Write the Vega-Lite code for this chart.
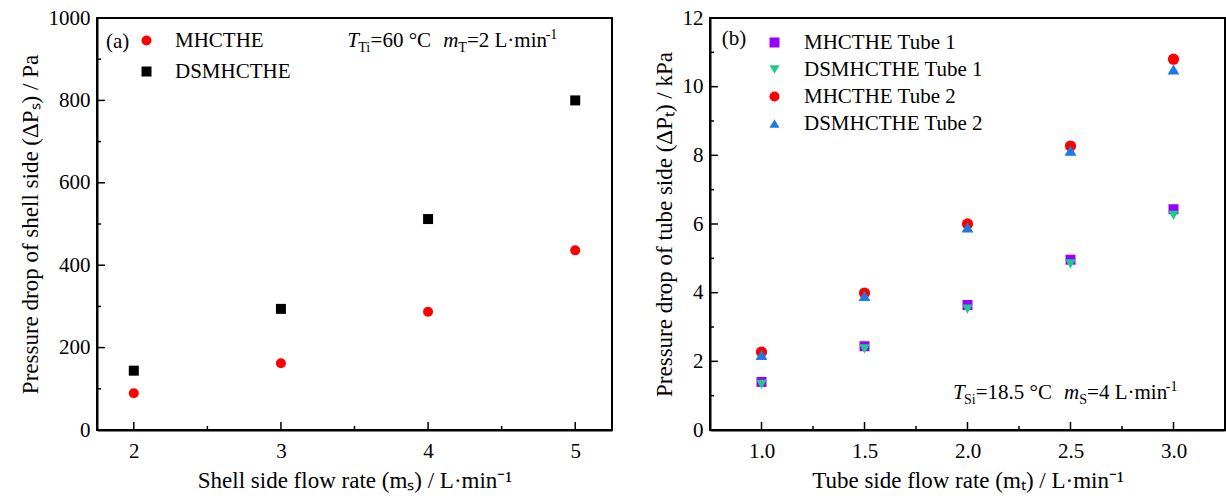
{
  "$schema": "https://vega.github.io/schema/vega-lite/v6.json",
  "padding": {"left": 18, "top": 6, "right": 0, "bottom": 0},
  "background": "white",
  "config": {
    "font": "Liberation Serif",
    "view": {"stroke": "black", "strokeWidth": 2},
    "axis": {"grid": false, "domainColor": "black", "domainWidth": 2,
             "labelColor": "black", "titleColor": "black", "labelFont": "Liberation Serif", "titleFont": "Liberation Serif",
             "labelFontSize": 21, "titleFontSize": 23, "titleFontWeight": "normal", "labelFlush": false, "labelOverlap": false},
    "legend": {"orient": "none", "title": null, "labelFont": "Liberation Serif", "labelFontSize": 21, "labelColor": "black",
               "symbolSize": 100, "padding": 0, "symbolStrokeWidth": 0, "symbolOpacity": 1, "labelLimit": 400},
    "text": {"font": "Liberation Serif", "color": "black"},
    "concat": {"spacing": 39}
  },
  "resolve": {"scale": {"color": "independent", "shape": "independent", "x": "independent", "y": "independent"},
              "legend": {"color": "independent", "shape": "independent"}},
  "hconcat": [
    {
      "width": 515, "height": 412,
      "resolve": {"axis": {"x": "independent", "y": "independent"}},
      "layer": [
        {"data": {"values": [{"mS": 2}, {"mS": 3}, {"mS": 4}, {"mS": 5}]},
         "mark": {"type": "rule", "color": "black", "strokeWidth": 1.5, "y2Offset": -8},
         "encoding": {"x": {"field": "mS", "type": "quantitative", "axis": null},
                      "y": {"datum": 0, "type": "quantitative", "axis": null},
                      "y2": {"datum": 0}}},
        {"data": {"values": [{"mS": 2.5}, {"mS": 3.5}, {"mS": 4.5}]},
         "mark": {"type": "rule", "color": "black", "strokeWidth": 1.5, "y2Offset": -4},
         "encoding": {"x": {"field": "mS", "type": "quantitative", "axis": null},
                      "y": {"datum": 0, "type": "quantitative", "axis": null},
                      "y2": {"datum": 0}}},
        {"data": {"values": [{"dP": 200}, {"dP": 400}, {"dP": 600}, {"dP": 800}]},
         "mark": {"type": "rule", "color": "black", "strokeWidth": 1.5, "x2Offset": 8},
         "encoding": {"y": {"field": "dP", "type": "quantitative", "axis": null},
                      "x": {"datum": 1.75, "type": "quantitative", "axis": null},
                      "x2": {"datum": 1.75}}},
        {"data": {"values": [{"dP": 100}, {"dP": 300}, {"dP": 500}, {"dP": 700}, {"dP": 900}]},
         "mark": {"type": "rule", "color": "black", "strokeWidth": 1.5, "x2Offset": 4},
         "encoding": {"y": {"field": "dP", "type": "quantitative", "axis": null},
                      "x": {"datum": 1.75, "type": "quantitative", "axis": null},
                      "x2": {"datum": 1.75}}},
        {
          "data": {"values": [
            {"mS": 2, "dP": 89, "series": "MHCTHE"},
            {"mS": 3, "dP": 162, "series": "MHCTHE"},
            {"mS": 4, "dP": 287, "series": "MHCTHE"},
            {"mS": 5, "dP": 436, "series": "MHCTHE"},
            {"mS": 2, "dP": 144, "series": "DSMHCTHE"},
            {"mS": 3, "dP": 294, "series": "DSMHCTHE"},
            {"mS": 4, "dP": 512, "series": "DSMHCTHE"},
            {"mS": 5, "dP": 800, "series": "DSMHCTHE"}
          ]},
          "mark": {"type": "point", "filled": true, "size": 100, "opacity": 1},
          "encoding": {
            "x": {"field": "mS", "type": "quantitative",
                  "scale": {"domain": [1.75, 5.25], "nice": false, "zero": false},
                  "axis": {"orient": "bottom", "title": "Shell side flow rate (mₛ) / L·min⁻¹", "values": [2, 3, 4, 5],
                           "format": "d", "ticks": false, "labelPadding": 10, "titlePadding": 8}},
            "y": {"field": "dP", "type": "quantitative",
                  "scale": {"domain": [0, 1000], "nice": false},
                  "axis": {"orient": "left", "title": "Pressure drop of shell side (ΔPₛ) / Pa", "values": [0, 200, 400, 600, 800, 1000],
                           "format": "d", "ticks": false, "labelPadding": 7, "titlePadding": 6}},
            "color": {"field": "series", "type": "nominal",
                      "scale": {"domain": ["MHCTHE", "DSMHCTHE"], "range": ["#FF0000", "#000000"]},
                      "legend": {"legendX": 39, "legendY": 12, "labelOffset": 18, "rowPadding": 9}},
            "shape": {"field": "series", "type": "nominal",
                      "scale": {"domain": ["MHCTHE", "DSMHCTHE"], "range": ["circle", "square"]},
                      "legend": {"legendX": 39, "legendY": 12, "labelOffset": 18, "rowPadding": 9}}
          }
        },
        {"data": {"values": [{"mS": 1.811, "dP": 927, "t": "(a)"}]},
         "mark": {"type": "text", "align": "left", "baseline": "alphabetic", "fontSize": 21},
         "encoding": {"x": {"field": "mS", "type": "quantitative", "axis": null}, "y": {"field": "dP", "type": "quantitative", "axis": null}, "text": {"field": "t"}}},
        {"data": {"values": [{"mS": 3.45, "dP": 930, "t": "T"}]},
         "mark": {"type": "text", "align": "left", "baseline": "alphabetic", "fontSize": 21, "fontStyle": "italic", "dx": 0},
         "encoding": {"x": {"field": "mS", "type": "quantitative", "axis": null}, "y": {"field": "dP", "type": "quantitative", "axis": null}, "text": {"field": "t"}}},
        {"data": {"values": [{"mS": 3.45, "dP": 930, "t": "Ti"}]},
         "mark": {"type": "text", "align": "left", "baseline": "alphabetic", "fontSize": 14, "dx": 11, "dy": 5},
         "encoding": {"x": {"field": "mS", "type": "quantitative", "axis": null}, "y": {"field": "dP", "type": "quantitative", "axis": null}, "text": {"field": "t"}}},
        {"data": {"values": [{"mS": 3.45, "dP": 930, "t": "=60 °C"}]},
         "mark": {"type": "text", "align": "left", "baseline": "alphabetic", "fontSize": 21, "dx": 23.4},
         "encoding": {"x": {"field": "mS", "type": "quantitative", "axis": null}, "y": {"field": "dP", "type": "quantitative", "axis": null}, "text": {"field": "t"}}},
        {"data": {"values": [{"mS": 3.45, "dP": 930, "t": "m"}]},
         "mark": {"type": "text", "align": "left", "baseline": "alphabetic", "fontSize": 21, "fontStyle": "italic", "dx": 96},
         "encoding": {"x": {"field": "mS", "type": "quantitative", "axis": null}, "y": {"field": "dP", "type": "quantitative", "axis": null}, "text": {"field": "t"}}},
        {"data": {"values": [{"mS": 3.45, "dP": 930, "t": "T"}]},
         "mark": {"type": "text", "align": "left", "baseline": "alphabetic", "fontSize": 14, "dx": 111.2, "dy": 5},
         "encoding": {"x": {"field": "mS", "type": "quantitative", "axis": null}, "y": {"field": "dP", "type": "quantitative", "axis": null}, "text": {"field": "t"}}},
        {"data": {"values": [{"mS": 3.45, "dP": 930, "t": "=2 L·min"}]},
         "mark": {"type": "text", "align": "left", "baseline": "alphabetic", "fontSize": 21, "dx": 119.8},
         "encoding": {"x": {"field": "mS", "type": "quantitative", "axis": null}, "y": {"field": "dP", "type": "quantitative", "axis": null}, "text": {"field": "t"}}},
        {"data": {"values": [{"mS": 3.45, "dP": 930, "t": "-1"}]},
         "mark": {"type": "text", "align": "left", "baseline": "alphabetic", "fontSize": 14, "dx": 198.5, "dy": -8},
         "encoding": {"x": {"field": "mS", "type": "quantitative", "axis": null}, "y": {"field": "dP", "type": "quantitative", "axis": null}, "text": {"field": "t"}}}
      ]
    },
    {
      "width": 515, "height": 412,
      "resolve": {"axis": {"x": "independent", "y": "independent"}},
      "layer": [
        {"data": {"values": [{"mT": 1.0}, {"mT": 1.5}, {"mT": 2.0}, {"mT": 2.5}, {"mT": 3.0}]},
         "mark": {"type": "rule", "color": "black", "strokeWidth": 1.5, "y2Offset": -8},
         "encoding": {"x": {"field": "mT", "type": "quantitative", "axis": null},
                      "y": {"datum": 0, "type": "quantitative", "axis": null},
                      "y2": {"datum": 0}}},
        {"data": {"values": [{"mT": 1.25}, {"mT": 1.75}, {"mT": 2.25}, {"mT": 2.75}]},
         "mark": {"type": "rule", "color": "black", "strokeWidth": 1.5, "y2Offset": -4},
         "encoding": {"x": {"field": "mT", "type": "quantitative", "axis": null},
                      "y": {"datum": 0, "type": "quantitative", "axis": null},
                      "y2": {"datum": 0}}},
        {"data": {"values": [{"dPT": 2}, {"dPT": 4}, {"dPT": 6}, {"dPT": 8}, {"dPT": 10}]},
         "mark": {"type": "rule", "color": "black", "strokeWidth": 1.5, "x2Offset": 8},
         "encoding": {"y": {"field": "dPT", "type": "quantitative", "axis": null},
                      "x": {"datum": 0.75, "type": "quantitative", "axis": null},
                      "x2": {"datum": 0.75}}},
        {"data": {"values": [{"dPT": 1}, {"dPT": 3}, {"dPT": 5}, {"dPT": 7}, {"dPT": 9}, {"dPT": 11}]},
         "mark": {"type": "rule", "color": "black", "strokeWidth": 1.5, "x2Offset": 4},
         "encoding": {"y": {"field": "dPT", "type": "quantitative", "axis": null},
                      "x": {"datum": 0.75, "type": "quantitative", "axis": null},
                      "x2": {"datum": 0.75}}},
        {
          "data": {"values": [
            {"mT": 1.0, "dPT": 1.40, "series": "MHCTHE Tube 1"},
            {"mT": 1.5, "dPT": 2.44, "series": "MHCTHE Tube 1"},
            {"mT": 2.0, "dPT": 3.64, "series": "MHCTHE Tube 1"},
            {"mT": 2.5, "dPT": 4.96, "series": "MHCTHE Tube 1"},
            {"mT": 3.0, "dPT": 6.43, "series": "MHCTHE Tube 1"},
            {"mT": 1.0, "dPT": 1.33, "series": "DSMHCTHE Tube 1"},
            {"mT": 1.5, "dPT": 2.36, "series": "DSMHCTHE Tube 1"},
            {"mT": 2.0, "dPT": 3.52, "series": "DSMHCTHE Tube 1"},
            {"mT": 2.5, "dPT": 4.84, "series": "DSMHCTHE Tube 1"},
            {"mT": 3.0, "dPT": 6.25, "series": "DSMHCTHE Tube 1"},
            {"mT": 1.0, "dPT": 2.27, "series": "MHCTHE Tube 2"},
            {"mT": 1.5, "dPT": 3.99, "series": "MHCTHE Tube 2"},
            {"mT": 2.0, "dPT": 6.00, "series": "MHCTHE Tube 2"},
            {"mT": 2.5, "dPT": 8.27, "series": "MHCTHE Tube 2"},
            {"mT": 3.0, "dPT": 10.80, "series": "MHCTHE Tube 2"},
            {"mT": 1.0, "dPT": 2.19, "series": "DSMHCTHE Tube 2"},
            {"mT": 1.5, "dPT": 3.91, "series": "DSMHCTHE Tube 2"},
            {"mT": 2.0, "dPT": 5.90, "series": "DSMHCTHE Tube 2"},
            {"mT": 2.5, "dPT": 8.14, "series": "DSMHCTHE Tube 2"},
            {"mT": 3.0, "dPT": 10.50, "series": "DSMHCTHE Tube 2"}
          ]},
          "mark": {"type": "point", "filled": true, "opacity": 1},
          "encoding": {
            "x": {"field": "mT", "type": "quantitative",
                  "scale": {"domain": [0.75, 3.25], "nice": false, "zero": false},
                  "axis": {"orient": "bottom", "title": "Tube side flow rate (mₜ) / L·min⁻¹", "values": [1, 1.5, 2, 2.5, 3],
                           "format": ".1f", "ticks": false, "labelPadding": 10, "titlePadding": 8}},
            "y": {"field": "dPT", "type": "quantitative",
                  "scale": {"domain": [0, 12], "nice": false},
                  "axis": {"orient": "left", "title": "Pressure drop of tube side (ΔPₜ) / kPa", "values": [0, 2, 4, 6, 8, 10, 12],
                           "format": "d", "ticks": false, "labelPadding": 7, "titlePadding": 6}},
            "color": {"field": "series", "type": "nominal",
                      "scale": {"domain": ["MHCTHE Tube 1", "DSMHCTHE Tube 1", "MHCTHE Tube 2", "DSMHCTHE Tube 2"],
                                "range": ["#9900FF", "#1DCC8A", "#FF0000", "#1E78E6"]},
                      "legend": {"legendX": 54, "legendY": 14, "labelOffset": 19, "rowPadding": 5}},
            "shape": {"field": "series", "type": "nominal",
                      "scale": {"domain": ["MHCTHE Tube 1", "DSMHCTHE Tube 1", "MHCTHE Tube 2", "DSMHCTHE Tube 2"],
                                "range": ["square", "triangle-down", "circle", "triangle-up"]},
                      "legend": {"legendX": 54, "legendY": 14, "labelOffset": 19, "rowPadding": 5}},
            "size": {"field": "series", "type": "nominal",
                     "scale": {"domain": ["MHCTHE Tube 1", "DSMHCTHE Tube 1", "MHCTHE Tube 2", "DSMHCTHE Tube 2"],
                               "range": [100, 140, 110, 140]},
                     "legend": null}
          }
        },
        {"data": {"values": [{"mT": 0.807, "dPT": 11.21, "t": "(b)"}]},
         "mark": {"type": "text", "align": "left", "baseline": "alphabetic", "fontSize": 21},
         "encoding": {"x": {"field": "mT", "type": "quantitative", "axis": null}, "y": {"field": "dPT", "type": "quantitative", "axis": null}, "text": {"field": "t"}}},
        {"data": {"values": [{"mT": 1.93, "dPT": 0.9, "t": "T"}]},
         "mark": {"type": "text", "align": "left", "baseline": "alphabetic", "fontSize": 21, "fontStyle": "italic", "dx": 0},
         "encoding": {"x": {"field": "mT", "type": "quantitative", "axis": null}, "y": {"field": "dPT", "type": "quantitative", "axis": null}, "text": {"field": "t"}}},
        {"data": {"values": [{"mT": 1.93, "dPT": 0.9, "t": "Si"}]},
         "mark": {"type": "text", "align": "left", "baseline": "alphabetic", "fontSize": 14, "dx": 11, "dy": 5},
         "encoding": {"x": {"field": "mT", "type": "quantitative", "axis": null}, "y": {"field": "dPT", "type": "quantitative", "axis": null}, "text": {"field": "t"}}},
        {"data": {"values": [{"mT": 1.93, "dPT": 0.9, "t": "=18.5 °C"}]},
         "mark": {"type": "text", "align": "left", "baseline": "alphabetic", "fontSize": 21, "dx": 22.7},
         "encoding": {"x": {"field": "mT", "type": "quantitative", "axis": null}, "y": {"field": "dPT", "type": "quantitative", "axis": null}, "text": {"field": "t"}}},
        {"data": {"values": [{"mT": 1.93, "dPT": 0.9, "t": "m"}]},
         "mark": {"type": "text", "align": "left", "baseline": "alphabetic", "fontSize": 21, "fontStyle": "italic", "dx": 111},
         "encoding": {"x": {"field": "mT", "type": "quantitative", "axis": null}, "y": {"field": "dPT", "type": "quantitative", "axis": null}, "text": {"field": "t"}}},
        {"data": {"values": [{"mT": 1.93, "dPT": 0.9, "t": "S"}]},
         "mark": {"type": "text", "align": "left", "baseline": "alphabetic", "fontSize": 14, "dx": 126.2, "dy": 5},
         "encoding": {"x": {"field": "mT", "type": "quantitative", "axis": null}, "y": {"field": "dPT", "type": "quantitative", "axis": null}, "text": {"field": "t"}}},
        {"data": {"values": [{"mT": 1.93, "dPT": 0.9, "t": "=4 L·min"}]},
         "mark": {"type": "text", "align": "left", "baseline": "alphabetic", "fontSize": 21, "dx": 134},
         "encoding": {"x": {"field": "mT", "type": "quantitative", "axis": null}, "y": {"field": "dPT", "type": "quantitative", "axis": null}, "text": {"field": "t"}}},
        {"data": {"values": [{"mT": 1.93, "dPT": 0.9, "t": "-1"}]},
         "mark": {"type": "text", "align": "left", "baseline": "alphabetic", "fontSize": 14, "dx": 212.7, "dy": -8},
         "encoding": {"x": {"field": "mT", "type": "quantitative", "axis": null}, "y": {"field": "dPT", "type": "quantitative", "axis": null}, "text": {"field": "t"}}}
      ]
    }
  ]
}
